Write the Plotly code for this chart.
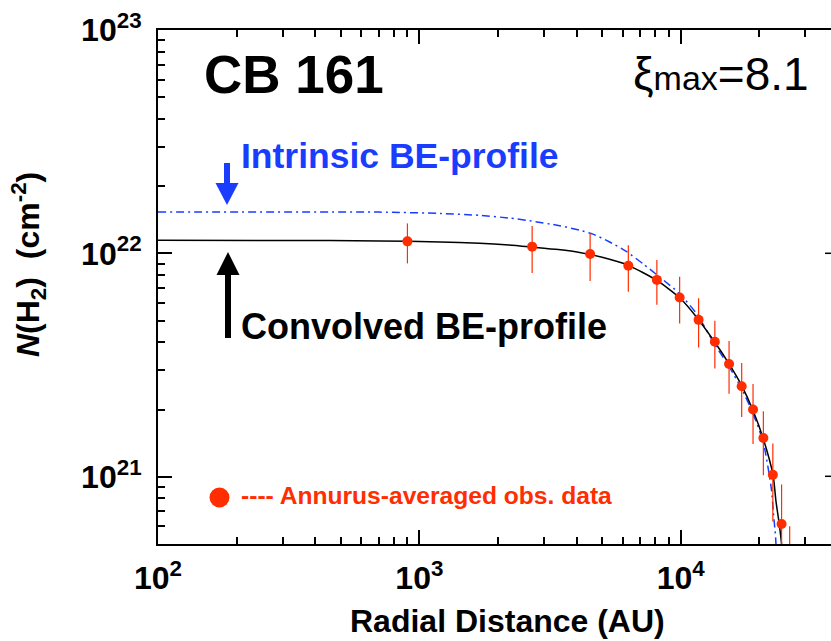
import plotly.graph_objects as go

# ---------------- data ----------------
obs_x = [900, 2700, 4500, 6300, 8100, 9900, 11700, 13500, 15300, 17100, 18900, 20700, 22500, 24300, 26100]
obs_y = [1.132e22, 1.072e22, 9.93e21, 8.81e21, 7.61e21, 6.35e21, 5.04e21, 4.02e21, 3.20e21,
         2.54e21, 2.00e21, 1.49e21, 1.02e21, 6.14e20, 3.5e20]
obs_err = [2.3e21, 2.55e21, 2.4e21, 2.07e21, 1.72e21, 1.5e21, 1.25e21, 0.97e21, 0.85e21,
           0.69e21, 0.60e21, 0.475e21, 0.39e21, 0.31e21, 0.25e21]

conv_x = [100, 300, 703, 1200, 1700, 2200, 2700, 3400, 4100, 5000, 6300, 8100, 9900, 11500,
          13500, 15300, 17100, 18900, 20700, 22570, 23120, 23800, 24310, 24500]
conv_y = [1.144e22, 1.143e22, 1.137e22, 1.125e22, 1.109e22, 1.09e22, 1.067e22, 1.04e22,
          1.01e22, 9.6e21, 8.84e21, 7.57e21, 6.33e21, 5.18e21, 4.0e21, 3.2e21, 2.56e21,
          1.98e21, 1.476e21, 1.01e21, 7.8e20, 6.15e20, 4.95e20, 3.0e20]

intr_x = [100, 700, 1200, 1700, 2200, 2640, 3440, 4100, 4610, 5300, 6190, 7200, 8310, 9900,
          11490, 13500, 15300, 17100, 18900, 20700, 22260, 22570, 23060, 23300]
intr_y = [1.532e22, 1.53e22, 1.51e22, 1.48e22, 1.44e22, 1.40e22, 1.33e22, 1.27e22, 1.22e22,
          1.13e22, 1.02e22, 8.95e21, 7.83e21, 6.60e21, 5.37e21, 3.91e21, 3.11e21, 2.48e21,
          1.92e21, 1.42e21, 8.65e20, 7.04e20, 5.34e20, 4.0e20]

x_major = [100, 1000, 10000]
x_major_text = ["10<sup>2</sup>", "10<sup>3</sup>", "10<sup>4</sup>"]
x_minor = [200, 300, 400, 500, 600, 700, 800, 900,
           2000, 3000, 4000, 5000, 6000, 7000, 8000, 9000, 20000, 30000]
y_major = [1e21, 1e22, 1e23]
y_major_text = ["10<sup>21</sup>", "10<sup>22</sup>", "10<sup>23</sup>"]
y_minor = [6e20, 7e20, 8e20, 9e20, 2e21, 3e21, 4e21, 5e21, 6e21, 7e21, 8e21, 9e21,
           2e22, 3e22, 4e22, 5e22, 6e22, 7e22, 8e22, 9e22]

RED = "#ff2d00"
BLUE = "#1a3cff"
FONT = "Liberation Sans, Arial, Helvetica, sans-serif"

fig = go.Figure()

fig.add_trace(go.Scatter(x=intr_x, y=intr_y, mode="lines",
                         line=dict(color=BLUE, width=1.5, dash="8px,4px,2px,4px",
                                   shape="spline", smoothing=0.6)))
fig.add_trace(go.Scatter(x=conv_x, y=conv_y, mode="lines",
                         line=dict(color="black", width=1.5, shape="spline", smoothing=0.6)))
fig.add_trace(go.Scatter(x=obs_x, y=obs_y, mode="markers",
                         marker=dict(color=RED, size=10),
                         error_y=dict(type="data", array=obs_err, visible=True,
                                      color=RED, thickness=1.2, width=0)))

# plot area in pixels: left 158, right 831, top 30, bottom 544
L, R, T, B = 158, 831, 30, 544
def px(xp):
    return (xp - L) / (R - L)
def py(yp):
    return (B - yp) / (B - T)

shapes = []
# blue arrow (down)
shapes.append(dict(type="line", xref="paper", yref="paper",
                   x0=px(227), x1=px(227), y0=py(163), y1=py(186),
                   line=dict(color=BLUE, width=6)))
shapes.append(dict(type="path", xref="paper", yref="paper",
                   path=f"M {px(215.5)} {py(183)} L {px(238.5)} {py(183)} L {px(227)} {py(205)} Z",
                   fillcolor=BLUE, line=dict(color=BLUE, width=0)))
# black arrow (up)
shapes.append(dict(type="line", xref="paper", yref="paper",
                   x0=px(228), x1=px(228), y0=py(338), y1=py(272),
                   line=dict(color="black", width=6)))
shapes.append(dict(type="path", xref="paper", yref="paper",
                   path=f"M {px(216.5)} {py(275)} L {px(239.5)} {py(275)} L {px(228)} {py(252)} Z",
                   fillcolor="black", line=dict(color="black", width=0)))
# legend dot
shapes.append(dict(type="circle", xref="paper", yref="paper",
                   x0=px(209.5), x1=px(229.5), y0=py(507.5), y1=py(487.5),
                   fillcolor=RED, line=dict(color=RED, width=0)))
# visible stubs of the (cropped) right-hand axis ticks
for yp in (253.3, 476.3):
    shapes.append(dict(type="line", xref="paper", yref="paper",
                       x0=px(825), x1=1, y0=py(yp), y1=py(yp),
                       line=dict(color="black", width=1.5)))

annotations = [
    dict(text="<b>CB 161</b>", x=px(202), y=py(74), xref="paper", yref="paper",
         xanchor="left", yanchor="middle", showarrow=False,
         font=dict(family=FONT, size=53, color="black")),
    dict(text="ξ<span style='font-size:34px'>max</span>=8.1", x=px(811), y=py(74),
         xref="paper", yref="paper", xanchor="right", yanchor="middle", showarrow=False,
         font=dict(family=FONT, size=46, color="black")),
    dict(text="<b>Intrinsic BE-profile</b>", x=px(239), y=py(156), xref="paper", yref="paper",
         xanchor="left", yanchor="middle", showarrow=False,
         font=dict(family=FONT, size=35.5, color=BLUE)),
    dict(text="<b>Convolved BE-profile</b>", x=px(239), y=py(326), xref="paper", yref="paper",
         xanchor="left", yanchor="middle", showarrow=False,
         font=dict(family=FONT, size=36, color="black")),
    dict(text="<b>---- Annurus-averaged obs. data</b>", x=px(239), y=py(495), xref="paper",
         yref="paper", xanchor="left", yanchor="middle", showarrow=False,
         font=dict(family=FONT, size=24.6, color=RED)),
    dict(text="<b>Radial Distance (AU)</b>", x=px(507), y=py(621), xref="paper", yref="paper",
         xanchor="center", yanchor="middle", showarrow=False,
         font=dict(family=FONT, size=32, color="black")),
    dict(text="<b><i>N</i>(H<sub>2</sub>)&nbsp; (cm<sup>-2</sup>)</b>", x=px(28), y=py(265),
         xref="paper", yref="paper", xanchor="center", yanchor="middle", showarrow=False,
         textangle=-90, font=dict(family=FONT, size=32, color="black")),
]

fig.update_layout(
    width=831, height=641,
    margin=dict(l=L, r=0, t=T, b=641 - B, pad=0),
    paper_bgcolor="white", plot_bgcolor="white",
    showlegend=False,
    shapes=shapes, annotations=annotations,
    font=dict(family=FONT, color="black"),
)

fig.update_xaxes(
    type="log", range=[2, 4.5747],
    showgrid=False, zeroline=False,
    showline=True, linecolor="black", linewidth=2, mirror="ticks",
    ticks="inside", ticklen=14, tickwidth=1.5, tickcolor="black",
    tickmode="array", tickvals=x_major, ticktext=x_major_text,
    tickfont=dict(family=FONT, size=32, color="black", weight="bold"),
    ticklabelstandoff=5,
    minor=dict(tickmode="array", tickvals=x_minor, ticks="inside", ticklen=7,
               tickwidth=1.5, tickcolor="black", showgrid=False),
)
fig.update_yaxes(
    type="log", range=[20.699, 23],
    showgrid=False, zeroline=False,
    showline=True, linecolor="black", linewidth=2, mirror=False,
    ticks="inside", ticklen=14, tickwidth=1.5, tickcolor="black",
    tickmode="array", tickvals=y_major, ticktext=y_major_text,
    tickfont=dict(family=FONT, size=32, color="black", weight="bold"),
    ticklabelstandoff=8,
    minor=dict(tickmode="array", tickvals=y_minor, ticks="inside", ticklen=7,
               tickwidth=1.5, tickcolor="black", showgrid=False),
)

fig.write_html("out.html")
